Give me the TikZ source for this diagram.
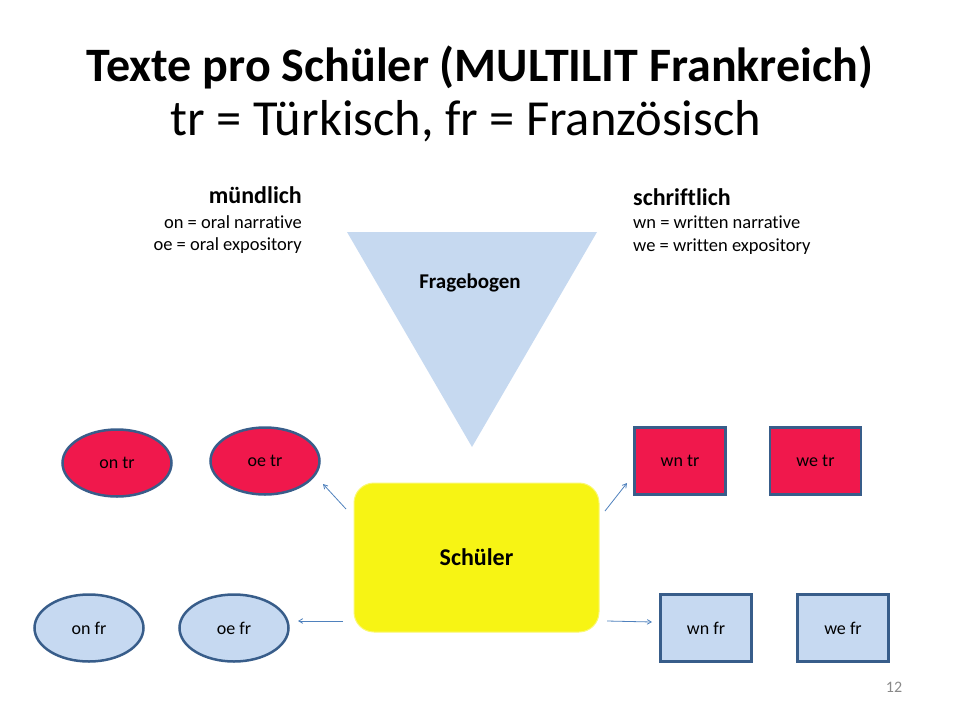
\documentclass[tikz,border=0pt]{standalone}
\usepackage{fontspec}
\setmainfont[Ligatures={NoCommon}]{Carlito}
\usepackage{tikz}
\usetikzlibrary{arrows,shapes.geometric}
\definecolor{node_red}{RGB}{240,24,76}
\definecolor{node_blue}{RGB}{198,217,241}
\definecolor{edge_blue}{RGB}{56,93,138}
\definecolor{tri_blue}{RGB}{198,217,240}
\definecolor{box_yellow}{RGB}{247,244,20}
\definecolor{arrow_blue}{RGB}{79,129,189}
\definecolor{num_gray}{RGB}{137,137,137}

\begin{document}
\begin{tikzpicture}[->,>=angle 60,x=1pt,y=-1pt]
    \tikzstyle{txt}=[inner sep=0pt, text=black]
    \tikzstyle{ell}=[ellipse, draw=edge_blue, line width=2.5pt, minimum width=109pt, minimum height=67pt, inner sep=0pt, text=black, font=\fontsize{18}{20}\selectfont]
    \tikzstyle{sq}=[rectangle, draw=edge_blue, line width=2.5pt, minimum width=91pt, minimum height=67pt, inner sep=0pt, text=black, font=\fontsize{18}{20}\selectfont]
    \tikzstyle{arr}=[draw=arrow_blue, line width=0.8pt]

    \useasboundingbox (0,0) rectangle (960,720);

    % title
    \node[txt, anchor=base, font=\fontsize{48}{50}\selectfont\bfseries] (title) at (480,81) {Texte pro Schüler (MULTILIT Frankreich)};
    \node[txt, anchor=base, font=\fontsize{50.5}{52}\selectfont] (subtitle) at (466,135) {tr = Türkisch, fr = Französisch};

    % legend
    \node[txt, anchor=base east, font=\fontsize{24}{26}\selectfont\bfseries] (mund) at (302,203) {mündlich};
    \node[txt, anchor=base east, font=\fontsize{18.5}{20}\selectfont] (on) at (302,228) {on = oral narrative};
    \node[txt, anchor=base east, font=\fontsize{18.5}{20}\selectfont] (oe) at (302,250) {oe = oral expository};
    \node[txt, anchor=base west, font=\fontsize{24}{26}\selectfont\bfseries] (schrift) at (633,205) {schriftlich};
    \node[txt, anchor=base west, font=\fontsize{18.5}{20}\selectfont] (wn) at (633,228) {wn = written narrative};
    \node[txt, anchor=base west, font=\fontsize{18.5}{20}\selectfont] (we) at (633,251) {we = written expository};

    % funnel
    \fill[-, tri_blue] (347,232) -- (597,232) -- (472,447) -- cycle;
    \node[txt, font=\fontsize{21}{23}\selectfont\bfseries] (frage) at (470,283) {Fragebogen};

    \node[rectangle, rounded corners=20pt, fill=box_yellow, draw=box_yellow!60, line width=1pt, minimum width=245pt, minimum height=149pt, text=black, font=\fontsize{24}{26}\selectfont\bfseries] (schueler) at (476.5,557.5) {Schüler};

    \node[ell, fill=node_red] (ontr) at (117,463) {on tr};
    \node[ell, fill=node_red] (oetr) at (265,461) {oe tr};
    \node[ell, fill=node_blue] (onfr) at (89,628) {on fr};
    \node[ell, fill=node_blue] (oefr) at (234,628) {oe fr};

    \node[sq, fill=node_red] (wntr) at (680,461) {wn tr};
    \node[sq, fill=node_red] (wetr) at (815.5,461) {we tr};
    \node[sq, fill=node_blue] (wnfr) at (706,628) {wn fr};
    \node[sq, fill=node_blue] (wefr) at (843,628) {we fr};

    \node[txt, text=num_gray, font=\fontsize{16}{18}\selectfont] (num) at (894,687) {12};

    \coordinate (s1) at (346,509);
    \coordinate (t1) at (323,484);
    \coordinate (s2) at (343,621);
    \coordinate (t2) at (298,621);
    \coordinate (s3) at (605,511);
    \coordinate (t3) at (627,483);
    \coordinate (s4) at (607,621);
    \coordinate (t4) at (652,622);
    \path
     (s1) edge[arr] (t1)
     (s2) edge[arr] (t2)
     (s3) edge[arr] (t3)
     (s4) edge[arr] (t4)
     ;
\end{tikzpicture}
\end{document}
